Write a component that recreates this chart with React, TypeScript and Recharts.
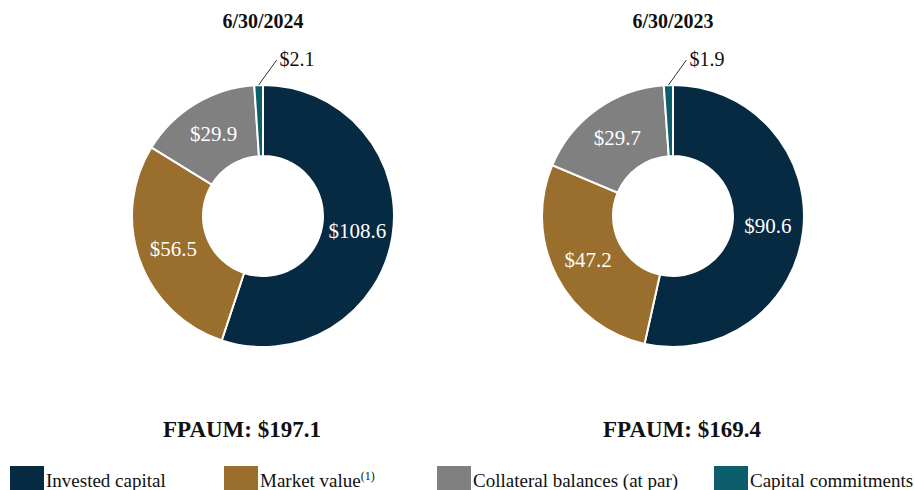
import { PieChart, Pie, Cell } from 'recharts'

const CATEGORIES = ['Invested capital', 'Market value', 'Collateral balances (at par)', 'Capital commitments']
const COLORS = ['#062a42', '#9a6e2c', '#808080', '#0c5e6c']
const VALUES_2024 = [108.6, 56.5, 29.9, 2.1]
const VALUES_2023 = [90.6, 47.2, 29.7, 1.9]
const PERIODS = ['6/30/2024', '6/30/2023']
const TOTALS = [197.1, 169.4]

const FONT = '"Liberation Serif", "Times New Roman", serif'
const RADIAN = Math.PI / 180

const toRows = (values: number[]) => CATEGORIES.map((name, i) => ({ name, value: values[i] }))

const renderLabel = (p: any) => {
  const { cx, cy, midAngle, innerRadius, outerRadius, value } = p
  if (value < 5) {
    // tiny slice: label outside with a leader line
    const sx = cx + outerRadius * Math.cos(-midAngle * RADIAN)
    const sy = cy + outerRadius * Math.sin(-midAngle * RADIAN)
    const ex = sx + 18
    const ey = sy - 25
    return (
      <g>
        <line x1={sx} y1={sy} x2={ex} y2={ey} stroke="#333" strokeWidth={1} />
        <text x={ex + 3} y={ey + 6} fill="#111" fontFamily={FONT} fontSize={20} textAnchor="start">
          ${value.toFixed(1)}
        </text>
      </g>
    )
  }
  const r = (innerRadius + outerRadius) / 2
  const x = cx + r * Math.cos(-midAngle * RADIAN)
  const y = cy + r * Math.sin(-midAngle * RADIAN)
  return (
    <text x={x} y={y} fill="#fff" fontFamily={FONT} fontSize={21} textAnchor="middle" dominantBaseline="central">
      ${value.toFixed(1)}
    </text>
  )
}

const PIE_CX = [263, 673]
const TOTAL_CX = [242, 682]
const LEGEND_X = [10, 224, 437, 714]

export default function App() {
  const sets = [VALUES_2024, VALUES_2023]
  return (
    <div style={{ position: 'fixed', left: 0, top: 0, width: 914, height: 490, background: '#fff' }}>
      <PieChart width={914} height={490} margin={{ top: 0, right: 0, bottom: 0, left: 0 }}>
        {sets.map((vals, k) => (
          <Pie
            key={k}
            data={toRows(vals)}
            dataKey="value"
            nameKey="name"
            cx={PIE_CX[k]}
            cy={216}
            innerRadius={60}
            outerRadius={131}
            startAngle={90}
            endAngle={-270}
            stroke="#fff"
            strokeWidth={2}
            label={renderLabel}
            labelLine={false}
            isAnimationActive={false}
          >
            {vals.map((_, i) => (
              <Cell key={i} fill={COLORS[i]} />
            ))}
          </Pie>
        ))}
      </PieChart>
      <svg width={914} height={490} style={{ position: 'absolute', left: 0, top: 0, pointerEvents: 'none' }}>
        {PERIODS.map((p, k) => (
          <text key={p} x={PIE_CX[k]} y={28} textAnchor="middle" fontFamily={FONT} fontWeight="bold" fontSize={20} fill="#111">
            {p}
          </text>
        ))}
        {TOTALS.map((t, k) => (
          <text key={k} x={TOTAL_CX[k]} y={437} textAnchor="middle" fontFamily={FONT} fontWeight="bold" fontSize={23} fill="#111">
            FPAUM: ${t.toFixed(1)}
          </text>
        ))}
        {CATEGORIES.map((c, i) => (
          <g key={c}>
            <rect x={LEGEND_X[i]} y={466} width={34} height={24} fill={COLORS[i]} />
            <text x={LEGEND_X[i] + 36} y={487} fontFamily={FONT} fontSize={19} fill="#111">
              {c}
              {i === 1 && (
                <tspan fontSize={12} dy={-7}>(1)</tspan>
              )}
            </text>
          </g>
        ))}
      </svg>
    </div>
  )
}
